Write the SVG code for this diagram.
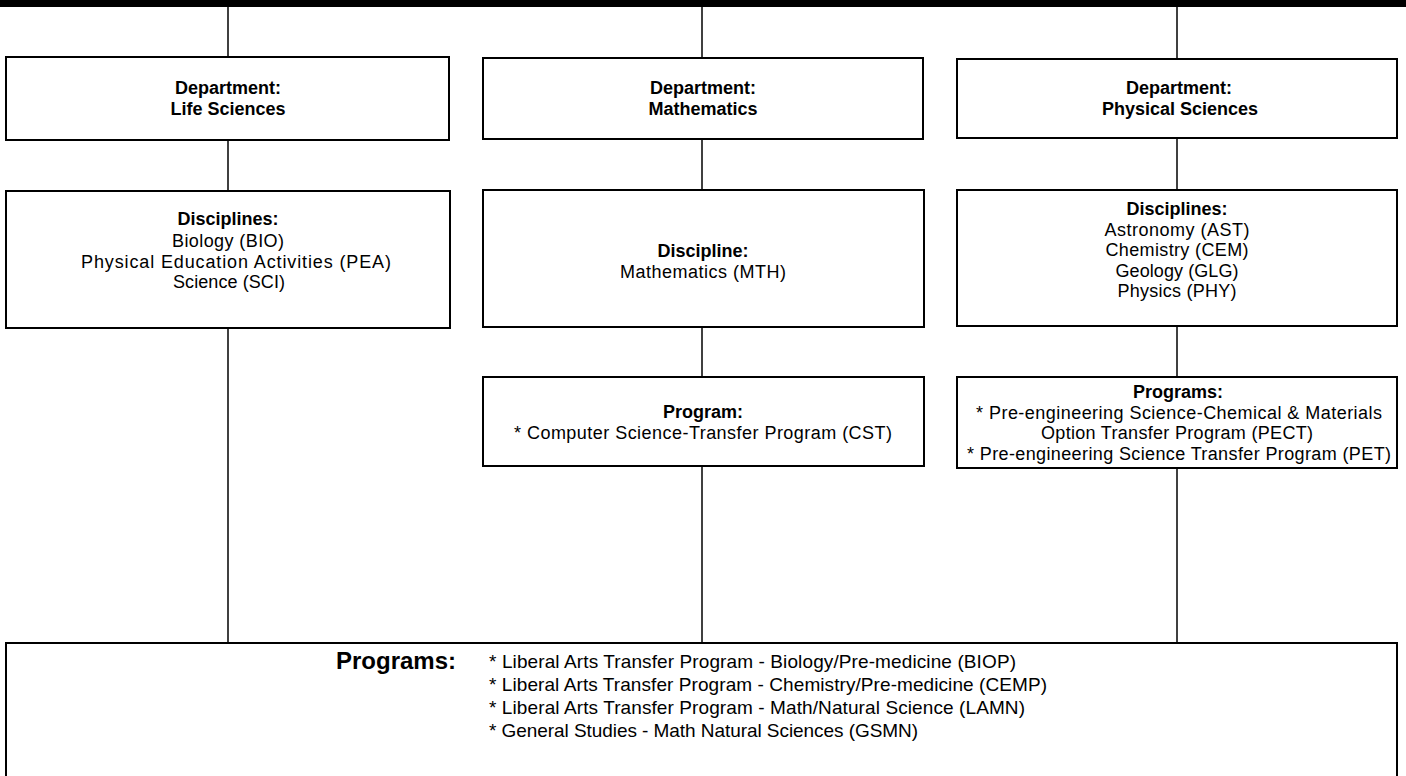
<svg xmlns="http://www.w3.org/2000/svg" width="1406" height="776" viewBox="0 0 1406 776">
<style>
.box{fill:#fff;stroke:#000;stroke-width:2}
.ln{stroke:#000;stroke-width:1.5;fill:none}
.t{font-family:"Liberation Sans",Arial,sans-serif;font-size:18px;fill:#000;text-anchor:middle}
.b{font-family:"Liberation Sans",Arial,sans-serif;font-size:18px;font-weight:bold;fill:#000;text-anchor:middle}
.l{font-family:"Liberation Sans",Arial,sans-serif;font-size:19px;fill:#000}
</style>
<rect x="0" y="0" width="1406" height="776" fill="#fff"/>
<rect x="0" y="0" width="1406" height="7" fill="#000"/>
<g id="connectors">
<line class="ln" x1="228" y1="7" x2="228" y2="57"/>
<line class="ln" x1="702" y1="7" x2="702" y2="58"/>
<line class="ln" x1="1177" y1="7" x2="1177" y2="59"/>
<line class="ln" x1="228" y1="140" x2="228" y2="191"/>
<line class="ln" x1="702" y1="139" x2="702" y2="190"/>
<line class="ln" x1="1177" y1="138" x2="1177" y2="190"/>
<line class="ln" x1="228" y1="328" x2="228" y2="643"/>
<line class="ln" x1="702" y1="327" x2="702" y2="377"/>
<line class="ln" x1="1177" y1="326" x2="1177" y2="377"/>
<line class="ln" x1="702" y1="466" x2="702" y2="643"/>
<line class="ln" x1="1177" y1="468" x2="1177" y2="643"/>
</g>
<g id="dept-life">
<rect class="box" x="6" y="57" width="443" height="83"/>
<text class="b" x="228" y="94">Department:</text>
<text class="b" x="228" y="115">Life Sciences</text>
</g>
<g id="dept-math">
<rect class="box" x="483" y="58" width="440" height="81"/>
<text class="b" x="703" y="94">Department:</text>
<text class="b" x="703" y="115">Mathematics</text>
</g>
<g id="dept-phys">
<rect class="box" x="957" y="59" width="440" height="79"/>
<text class="b" x="1179" y="94">Department:</text>
<text class="b" x="1180" y="115">Physical Sciences</text>
</g>
<g id="disc-life">
<rect class="box" x="6" y="191" width="444" height="137"/>
<text class="b" x="228" y="225.4">Disciplines:</text>
<text class="t" x="228" y="247.4" textLength="112">Biology (BIO)</text>
<text class="t" x="236" y="267.9" textLength="310">Physical Education Activities (PEA)</text>
<text class="t" x="229" y="288.4" textLength="112">Science (SCI)</text>
</g>
<g id="disc-math">
<rect class="box" x="483" y="190" width="441" height="137"/>
<text class="b" x="703" y="257.4">Discipline:</text>
<text class="t" x="703" y="277.6" textLength="166">Mathematics (MTH)</text>
</g>
<g id="disc-phys">
<rect class="box" x="957" y="190" width="440" height="136"/>
<text class="b" x="1177" y="215.4">Disciplines:</text>
<text class="t" x="1177" y="235.9" textLength="145">Astronomy (AST)</text>
<text class="t" x="1177" y="256.4" textLength="143">Chemistry (CEM)</text>
<text class="t" x="1177" y="276.9" textLength="123">Geology (GLG)</text>
<text class="t" x="1177" y="297.4" textLength="119">Physics (PHY)</text>
</g>
<g id="prog-math">
<rect class="box" x="483" y="377" width="441" height="89"/>
<text class="b" x="703" y="418.4">Program:</text>
<text class="t" x="703" y="438.6" textLength="378">* Computer Science-Transfer Program (CST)</text>
</g>
<g id="prog-phys">
<rect class="box" x="957" y="377" width="440" height="91"/>
<text class="b" x="1178" y="398.4">Programs:</text>
<text class="t" x="1179" y="418.6" textLength="406">* Pre-engineering Science-Chemical &amp; Materials</text>
<text class="t" x="1177" y="439.1" textLength="272">Option Transfer Program (PECT)</text>
<text class="t" x="1179" y="459.6" textLength="424">* Pre-engineering Science Transfer Program (PET)</text>
</g>
<g id="programs-all">
<rect class="box" x="6" y="643" width="1391" height="150"/>
<text class="b" x="336" y="668.6" style="font-size:24px;text-anchor:start">Programs:</text>
<text class="l" x="489" y="667.8" textLength="527">* Liberal Arts Transfer Program - Biology/Pre-medicine (BIOP)</text>
<text class="l" x="489" y="690.8" textLength="558">* Liberal Arts Transfer Program - Chemistry/Pre-medicine (CEMP)</text>
<text class="l" x="489" y="713.8" textLength="536">* Liberal Arts Transfer Program - Math/Natural Science (LAMN)</text>
<text class="l" x="489" y="736.8" textLength="429">* General Studies - Math Natural Sciences (GSMN)</text>
</g>
</svg>
